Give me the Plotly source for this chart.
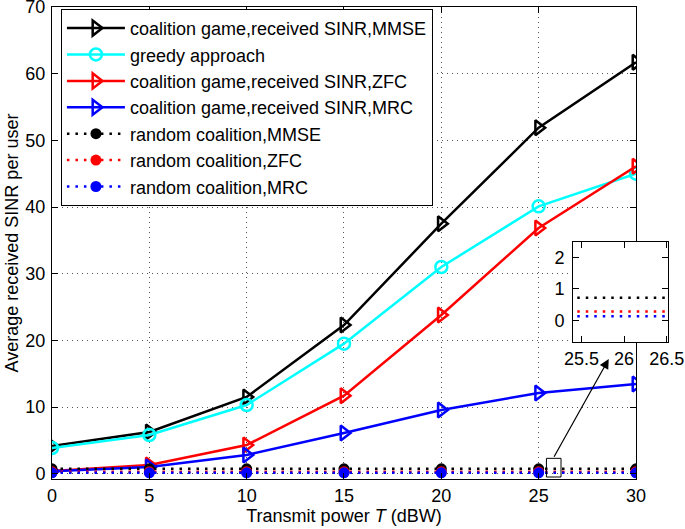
import plotly.graph_objects as go

x_vals = [0, 5, 10, 15, 20, 25, 30]
cg_mmse = [4.15, 6.25, 11.5, 22.3, 37.5, 51.9, 61.7]
greedy = [3.85, 5.8, 10.3, 19.5, 31.0, 40.1, 45.0]
cg_zfc = [0.4, 1.3, 4.3, 11.7, 23.8, 36.85, 46.1]
cg_mrc = [0.35, 1.0, 2.8, 6.1, 9.55, 12.1, 13.45]
rand_mmse = [0.72] * 7
rand_zfc = [0.28] * 7
rand_mrc = [0.13] * 7

names = [
    "coalition game,received SINR,MMSE",
    "greedy approach",
    "coalition game,received SINR,ZFC",
    "coalition game,received SINR,MRC",
    "random coalition,MMSE",
    "random coalition,ZFC",
    "random coalition,MRC",
]

FONT = "Liberation Sans, Arial, Helvetica, sans-serif"
fig = go.Figure()

solid = [(cg_mmse, "black", "triangle-right-open"),
         (greedy, "cyan", "circle-open"),
         (cg_zfc, "red", "triangle-right-open"),
         (cg_mrc, "blue", "triangle-right-open")]
for i, (ys, col, sym) in enumerate(solid):
    fig.add_trace(go.Scatter(
        x=x_vals, y=ys, name=names[i], mode="lines+markers",
        line=dict(color=col, width=2.5),
        marker=dict(symbol=sym, size=13 if "tri" in sym else 12,
                    color=col, line=dict(color=col, width=2.5)),
    ))

rand = [(rand_mmse, "black"), (rand_zfc, "red"), (rand_mrc, "blue")]
for j, (ys, col) in enumerate(rand):
    fig.add_trace(go.Scatter(
        x=x_vals, y=ys, name=names[4 + j], mode="lines+markers",
        line=dict(color=col, width=2.5, dash="2.5px,6px"),
        marker=dict(symbol="circle", size=11, color=col),
    ))

# inset traces
for j, (ys, col) in enumerate(rand):
    fig.add_trace(go.Scatter(
        x=x_vals, y=ys, mode="lines", showlegend=False,
        line=dict(color=col, width=2.5, dash="2.5px,6px"),
        xaxis="x2", yaxis="y2",
    ))

axis_common = dict(
    showline=True, linecolor="black", linewidth=1, mirror="ticks",
    ticks="inside", ticklen=6, tickcolor="black",
    tickfont=dict(family=FONT, size=18, color="black"),
    zeroline=False, automargin=False, ticklabeloverflow="allow",
)

fig.update_layout(
    width=685, height=529,
    margin=dict(l=52, r=17, t=7, b=50),
    paper_bgcolor="white", plot_bgcolor="white",
    font=dict(family=FONT, size=18, color="black"),
    xaxis=dict(
        domain=[0, 0.948], range=[0, 30], tickvals=[0, 5, 10, 15, 20, 25, 30],
        showgrid=True, gridcolor="#555", griddash="1px,4px", gridwidth=1,
        title=dict(text="Transmit power <i>T</i> (dBW)", standoff=2,
                   font=dict(family=FONT, size=18)),
        **axis_common,
    ),
    yaxis=dict(
        range=[-0.8, 70], tickvals=[0, 10, 20, 30, 40, 50, 60, 70],
        showgrid=True, gridcolor="#555", griddash="1px,4px", gridwidth=1,
        title=dict(text="Average received SINR per user", standoff=2,
                   font=dict(family=FONT, size=18)),
        ticklabelstandoff=2,
        **axis_common,
    ),
    xaxis2=dict(
        domain=[0.8458, 1.0], range=[25.4, 26.515], tickvals=[25.5, 26, 26.5],
        ticktext=["25.5", "26", "26.5"], anchor="y2", showgrid=False,
        **axis_common,
    ),
    yaxis2=dict(
        domain=[0.290, 0.502], range=[-0.7, 2.5], tickvals=[0, 1, 2],
        anchor="x2", showgrid=False, ticklabelstandoff=4,
        **axis_common,
    ),
    legend=dict(
        x=0.0145, y=0.996, xanchor="left", yanchor="top",
        bgcolor="white", bordercolor="black", borderwidth=1,
        font=dict(family=FONT, size=18, color="black"),
        tracegroupgap=0, itemwidth=58,
    ),
    showlegend=True,
)

# zoom rectangle and arrow
fig.add_shape(type="rect", xref="x", yref="y", x0=25.4, x1=26.15, y0=-0.5, y1=2.3,
              line=dict(color="black", width=1), fillcolor="rgba(0,0,0,0)")
fig.add_annotation(xref="x", yref="y", axref="x", ayref="y",
                   x=28.6, y=17.2, ax=25.75, ay=2.3, text="",
                   showarrow=True, arrowhead=2, arrowsize=1.6, arrowwidth=1.2,
                   arrowcolor="black")

fig.write_html("out.html", config={"displayModeBar": False},
               post_script="document.body.style.margin='0px';")
